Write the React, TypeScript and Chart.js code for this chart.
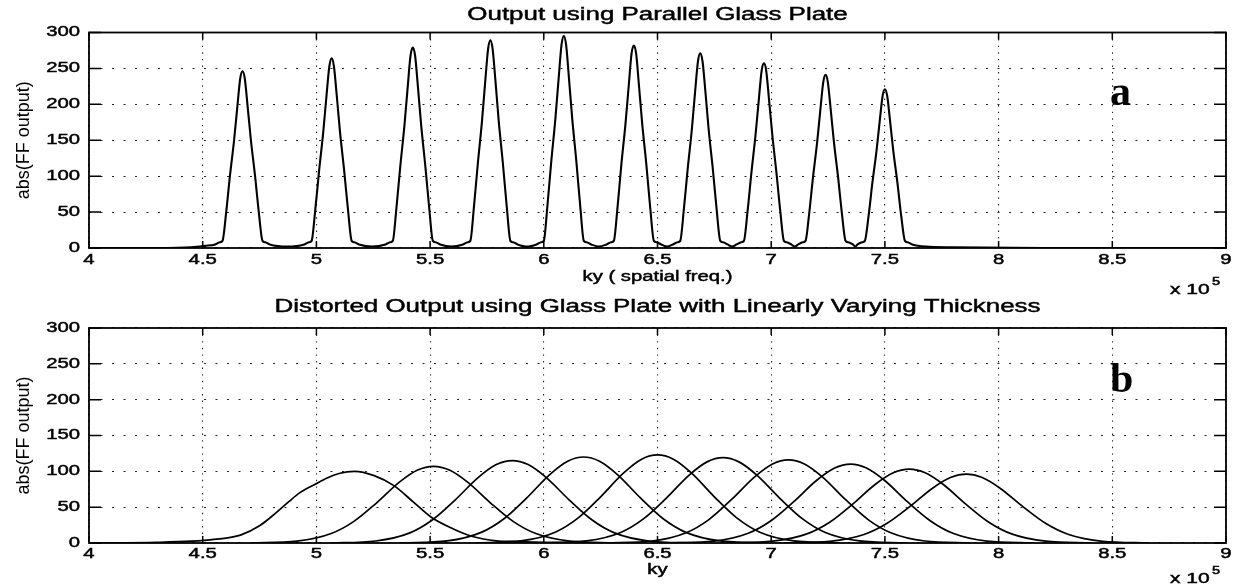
import React, { useEffect, useRef } from "react";
import { Chart, registerables } from "chart.js";
Chart.register(...registerables);

// ---------- axes / labels ----------
const X_TICKS = [4, 4.5, 5, 5.5, 6, 6.5, 7, 7.5, 8, 8.5, 9];
const X_TICK_LABELS = ["4", "4.5", "5", "5.5", "6", "6.5", "7", "7.5", "8", "8.5", "9"];
const Y_TICKS = [0, 50, 100, 150, 200, 250, 300];
const Y_TICK_LABELS = ["0", "50", "100", "150", "200", "250", "300"];

const TITLE_A = "Output using Parallel Glass Plate";
const TITLE_B = "Distorted Output using Glass Plate with Linearly Varying Thickness";
const XLABEL_A = "ky ( spatial freq.)";
const XLABEL_B = "ky";
const YLABEL = "abs(FF output)";
const EXP_BASE = "x 10";
const EXP_POWER = "5";

// ---------- panel a: parallel glass plate (ky in 1e5) ----------
const TOP_KY = [
  4.0, 4.3, 4.45, 4.51,
  4.555, 4.575, 4.587, 4.603, 4.62, 4.638, 4.653, 4.665, 4.675, 4.685, 4.697, 4.712, 4.73, 4.747, 4.763, 4.775, 4.795,
  4.871,
  4.947, 4.967, 4.979, 4.995, 5.012, 5.03, 5.045, 5.057, 5.067, 5.077, 5.089, 5.104, 5.122, 5.139, 5.155, 5.167, 5.187,
  5.245,
  5.304, 5.324, 5.336, 5.352, 5.369, 5.387, 5.402, 5.414, 5.424, 5.434, 5.446, 5.461, 5.479, 5.496, 5.512, 5.524, 5.544,
  5.594,
  5.645, 5.665, 5.677, 5.693, 5.71, 5.728, 5.743, 5.755, 5.765, 5.775, 5.787, 5.802, 5.82, 5.837, 5.853, 5.865, 5.885,
  5.926,
  5.968, 5.988, 6.0, 6.016, 6.033, 6.051, 6.066, 6.078, 6.088, 6.098, 6.11, 6.125, 6.143, 6.16, 6.176, 6.188, 6.208,
  6.242,
  6.276, 6.296, 6.308, 6.324, 6.341, 6.359, 6.374, 6.386, 6.396, 6.406, 6.418, 6.433, 6.451, 6.468, 6.484, 6.496, 6.516,
  6.542,
  6.568, 6.588, 6.6, 6.616, 6.633, 6.651, 6.666, 6.678, 6.688, 6.698, 6.71, 6.725, 6.743, 6.76, 6.776, 6.788, 6.808,
  6.828,
  6.848, 6.868, 6.88, 6.896, 6.913, 6.931, 6.946, 6.958, 6.968, 6.978, 6.99, 7.005, 7.023, 7.04, 7.056, 7.068, 7.088,
  7.104,
  7.119, 7.139, 7.151, 7.167, 7.184, 7.202, 7.217, 7.229, 7.239, 7.249, 7.261, 7.276, 7.294, 7.311, 7.327, 7.339, 7.359,
  7.37,
  7.38, 7.4, 7.412, 7.428, 7.445, 7.463, 7.478, 7.49, 7.5, 7.51, 7.522, 7.537, 7.555, 7.572, 7.588, 7.6, 7.62,
  7.68, 7.8, 8.2, 9.0,
];
const TOP_ABS = [
  0, 0, 1, 3,
  5, 8, 10, 49, 101, 150, 199, 236, 246, 236, 199, 150, 101, 49, 10, 8, 5,
  2,
  5, 8, 10, 53, 108, 161, 214, 253, 264, 253, 214, 161, 108, 53, 10, 8, 5,
  2,
  5, 8, 10, 56, 114, 170, 226, 268, 279, 268, 226, 170, 114, 56, 10, 8, 5,
  2,
  5, 8, 10, 58, 118, 176, 234, 277, 289, 277, 234, 176, 118, 58, 10, 8, 5,
  2,
  5, 8, 10, 59, 121, 180, 239, 283, 295, 283, 239, 180, 121, 59, 10, 8, 5,
  2,
  5, 8, 10, 56, 116, 172, 228, 271, 282, 271, 228, 172, 116, 56, 10, 8, 5,
  2,
  5, 8, 10, 54, 111, 165, 220, 260, 271, 260, 220, 165, 111, 54, 10, 8, 5,
  2,
  5, 8, 10, 51, 105, 157, 208, 247, 257, 247, 208, 157, 105, 51, 10, 8, 5,
  2,
  5, 8, 10, 48, 99, 147, 195, 231, 241, 231, 195, 147, 99, 48, 10, 8, 5,
  2,
  5, 8, 10, 44, 91, 135, 179, 212, 221, 212, 179, 135, 91, 44, 10, 8, 5,
  2, 1, 0, 0,
];

// ---------- panel b: linearly varying thickness ----------
const DIST1_KY = [4.0, 4.3, 4.45, 4.55, 4.666, 4.75, 4.822, 4.88, 4.926, 4.995, 5.05, 5.099, 5.168, 5.254, 5.341, 5.427, 5.505, 5.6, 5.687, 5.791, 5.877, 6.0, 6.3];
const DIST1_ABS = [0, 1, 2.5, 5, 11, 24, 42, 58, 70, 82, 91, 97, 100, 94, 80, 57, 36, 20, 9, 3, 2, 1, 0];
const DIST2_KY = [4.715, 4.915, 5.065, 5.165, 5.265, 5.365, 5.445, 5.515, 5.585, 5.665, 5.765, 5.865, 5.965, 6.115, 6.315];
const DIST2_ABS = [0.1, 2.6, 13.2, 30.2, 56.1, 84.9, 101.8, 107, 101.8, 84.9, 56.1, 30.2, 13.2, 2.6, 0.1];
const DIST3_KY = [5.061, 5.261, 5.411, 5.511, 5.611, 5.711, 5.791, 5.861, 5.931, 6.011, 6.111, 6.211, 6.311, 6.461, 6.661];
const DIST3_ABS = [0.1, 2.8, 14.1, 32.4, 60.3, 91.2, 109.4, 115, 109.4, 91.2, 60.3, 32.4, 14.1, 2.8, 0.1];
const DIST4_KY = [5.375, 5.575, 5.725, 5.825, 5.925, 6.025, 6.105, 6.175, 6.245, 6.325, 6.425, 6.525, 6.625, 6.775, 6.975];
const DIST4_ABS = [0.2, 2.9, 14.8, 33.8, 62.9, 95.2, 114.1, 120, 114.1, 95.2, 62.9, 33.8, 14.8, 2.9, 0.2];
const DIST5_KY = [5.7, 5.9, 6.05, 6.15, 6.25, 6.35, 6.43, 6.5, 6.57, 6.65, 6.75, 6.85, 6.95, 7.1, 7.3];
const DIST5_ABS = [0.2, 3.0, 15.1, 34.7, 64.5, 97.5, 117.0, 123, 117.0, 97.5, 64.5, 34.7, 15.1, 3.0, 0.2];
const DIST6_KY = [5.988, 6.188, 6.338, 6.438, 6.538, 6.638, 6.718, 6.788, 6.858, 6.938, 7.038, 7.138, 7.238, 7.388, 7.588];
const DIST6_ABS = [0.2, 2.9, 14.6, 33.6, 62.4, 94.4, 113.2, 119, 113.2, 94.4, 62.4, 33.6, 14.6, 2.9, 0.2];
const DIST7_KY = [6.276, 6.476, 6.626, 6.726, 6.826, 6.926, 7.006, 7.076, 7.146, 7.226, 7.326, 7.426, 7.526, 7.676, 7.876];
const DIST7_ABS = [0.2, 2.8, 14.3, 32.7, 60.8, 92.0, 110.3, 116, 110.3, 92.0, 60.8, 32.7, 14.3, 2.8, 0.2];
const DIST8_KY = [6.549, 6.749, 6.899, 6.999, 7.099, 7.199, 7.279, 7.349, 7.419, 7.499, 7.599, 7.699, 7.799, 7.949, 8.149];
const DIST8_ABS = [0.1, 2.6, 13.5, 31.0, 57.6, 87.2, 104.6, 110, 104.6, 87.2, 57.6, 31.0, 13.5, 2.6, 0.1];
const DIST9_KY = [6.807, 7.007, 7.157, 7.257, 7.357, 7.457, 7.537, 7.607, 7.677, 7.757, 7.857, 7.957, 8.057, 8.207, 8.407];
const DIST9_ABS = [0.1, 2.5, 12.7, 29.0, 54.0, 81.7, 98.0, 103, 98.0, 81.7, 54.0, 29.0, 12.7, 2.5, 0.1];
const DIST10_KY = [7.058, 7.258, 7.408, 7.508, 7.608, 7.708, 7.788, 7.858, 7.928, 8.008, 8.108, 8.208, 8.308, 8.458, 8.658];
const DIST10_ABS = [0.1, 2.3, 11.8, 27.1, 50.3, 76.1, 91.3, 96, 91.3, 76.1, 50.3, 27.1, 11.8, 2.3, 0.1];

const SANS = "'Liberation Sans', Arial, Helvetica, sans-serif";
const SERIF = "'Liberation Serif', 'Times New Roman', serif";

function pts(xs: number[], ys: number[]) {
  return xs.map((x, i) => ({ x, y: ys[i] }));
}

function drawStretched(ctx: CanvasRenderingContext2D, text: string, x: number, y: number, size: number, sx: number, align: string) {
  ctx.save();
  ctx.font = `${size}px ${SANS}`;
  ctx.textBaseline = "middle";
  ctx.textAlign = "left";
  const w = ctx.measureText(text).width * sx;
  const left = align === "center" ? x - w / 2 : align === "right" ? x - w : x;
  ctx.translate(left, y);
  ctx.scale(sx, 1);
  ctx.fillStyle = "#000";
  ctx.strokeStyle = "#000";
  ctx.lineWidth = 0.45;
  ctx.fillText(text, 0, 0);
  ctx.strokeText(text, 0, 0);
  ctx.restore();
}

type Spec = {
  top: number;
  height: number;
  padTop: number;
  padBottom: number;
  title: string;
  titleY: number;
  xLabel: string;
  xLabelY: number;
  tickY: number;
  expY: number;
  letter: string;
  letterBase: number;
  lineWidth: number;
  series: { x: number; y: number }[][];
};

function makeFrame(spec: Spec) {
  return {
    id: "matlabFrame",
    afterDraw(chart: any) {
      const { ctx, chartArea: a, scales } = chart;
      const xs = scales.x;
      const ys = scales.y;
      ctx.save();
      ctx.strokeStyle = "#000";
      ctx.lineWidth = 1.8;
      ctx.strokeRect(a.left, a.top, a.right - a.left, a.bottom - a.top);
      ctx.lineWidth = 1.5;
      ctx.beginPath();
      for (const v of X_TICKS) {
        const px = xs.getPixelForValue(v);
        ctx.moveTo(px, a.bottom);
        ctx.lineTo(px, a.bottom - 7);
        ctx.moveTo(px, a.top);
        ctx.lineTo(px, a.top + 7);
      }
      for (const v of Y_TICKS) {
        const py = ys.getPixelForValue(v);
        ctx.moveTo(a.left, py);
        ctx.lineTo(a.left + 12, py);
        ctx.moveTo(a.right, py);
        ctx.lineTo(a.right - 12, py);
      }
      ctx.stroke();
      ctx.restore();

      X_TICKS.forEach((v, i) => drawStretched(ctx, X_TICK_LABELS[i], xs.getPixelForValue(v), spec.tickY, 14, 1.45, "center"));
      Y_TICKS.forEach((v, i) => drawStretched(ctx, Y_TICK_LABELS[i], 80, ys.getPixelForValue(v), 14, 1.45, "right"));
      const cx = (a.left + a.right) / 2;
      drawStretched(ctx, spec.title, cx, spec.titleY, 18, 1.44, "center");
      drawStretched(ctx, spec.xLabel, cx, spec.xLabelY, 14, 1.45, "center");
      drawStretched(ctx, EXP_BASE, 1170, spec.expY, 14, 1.5, "left");
      drawStretched(ctx, EXP_POWER, 1212, spec.expY - 8, 10, 1.45, "left");

      ctx.save();
      ctx.translate(24, (a.top + a.bottom) / 2);
      ctx.rotate(-Math.PI / 2);
      ctx.font = `18px ${SANS}`;
      ctx.textAlign = "center";
      ctx.textBaseline = "middle";
      ctx.fillStyle = "#000";
      ctx.fillText(YLABEL, 0, 0);
      ctx.restore();

      ctx.save();
      ctx.font = `bold 42px ${SERIF}`;
      ctx.textAlign = "left";
      ctx.textBaseline = "alphabetic";
      ctx.fillStyle = "#000";
      ctx.fillText(spec.letter, 1110, spec.letterBase);
      ctx.restore();
    },
  };
}

function Panel({ spec }: { spec: Spec }) {
  const ref = useRef<HTMLCanvasElement | null>(null);
  useEffect(() => {
    if (!ref.current) return;
    const chart = new Chart(ref.current, {
      type: "line",
      data: {
        datasets: spec.series.map((d) => ({
          data: d,
          borderColor: "#000",
          borderWidth: spec.lineWidth,
          pointRadius: 0,
          fill: false,
          cubicInterpolationMode: "monotone" as const,
        })),
      },
      options: {
        responsive: false,
        animation: false,
        events: [],
        layout: { padding: { left: 89, right: 12, top: spec.padTop, bottom: spec.padBottom } },
        plugins: { legend: { display: false }, tooltip: { enabled: false }, title: { display: false } },
        scales: {
          x: {
            type: "linear",
            min: 4,
            max: 9,
            afterBuildTicks: (s: any) => {
              s.ticks = X_TICKS.map((v) => ({ value: v }));
            },
            afterFit: (s: any) => {
              s.height = 0;
            },
            ticks: { display: false },
            grid: { drawTicks: false, color: "rgba(0,0,0,0.85)", lineWidth: 1.1 },
            border: { display: false, dash: [1.4, 5.2] },
          },
          y: {
            type: "linear",
            min: 0,
            max: 300,
            afterBuildTicks: (s: any) => {
              s.ticks = Y_TICKS.map((v) => ({ value: v }));
            },
            afterFit: (s: any) => {
              s.width = 0;
            },
            ticks: { display: false },
            grid: { drawTicks: false, color: "rgba(0,0,0,0.85)", lineWidth: 1.1 },
            border: { display: false, dash: [2, 9.5] },
          },
        },
      } as any,
      plugins: [makeFrame(spec)],
    });
    return () => chart.destroy();
  }, [spec]);
  return (
    <canvas
      ref={ref}
      width={1238}
      height={spec.height}
      style={{ position: "absolute", left: 0, top: spec.top, display: "block" }}
    />
  );
}

const SPEC_A: Spec = {
  top: 0,
  height: 300,
  padTop: 32.5,
  padBottom: 52,
  title: TITLE_A,
  titleY: 15,
  xLabel: XLABEL_A,
  xLabelY: 277,
  tickY: 260,
  expY: 290,
  letter: "a",
  letterBase: 105,
  lineWidth: 2.1,
  series: [pts(TOP_KY, TOP_ABS)],
};

const SPEC_B: Spec = {
  top: 293,
  height: 294,
  padTop: 35,
  padBottom: 44,
  title: TITLE_B,
  titleY: 14,
  xLabel: XLABEL_B,
  xLabelY: 277,
  tickY: 261,
  expY: 286,
  letter: "b",
  letterBase: 99,
  lineWidth: 1.7,
  series: [
    pts(DIST1_KY, DIST1_ABS),
    pts(DIST2_KY, DIST2_ABS),
    pts(DIST3_KY, DIST3_ABS),
    pts(DIST4_KY, DIST4_ABS),
    pts(DIST5_KY, DIST5_ABS),
    pts(DIST6_KY, DIST6_ABS),
    pts(DIST7_KY, DIST7_ABS),
    pts(DIST8_KY, DIST8_ABS),
    pts(DIST9_KY, DIST9_ABS),
    pts(DIST10_KY, DIST10_ABS),
  ],
};

export default function App() {
  return (
    <div style={{ position: "absolute", left: 0, top: 0, width: 1238, height: 587, background: "#fff", overflow: "hidden" }}>
      <Panel spec={SPEC_A} />
      <Panel spec={SPEC_B} />
    </div>
  );
}
